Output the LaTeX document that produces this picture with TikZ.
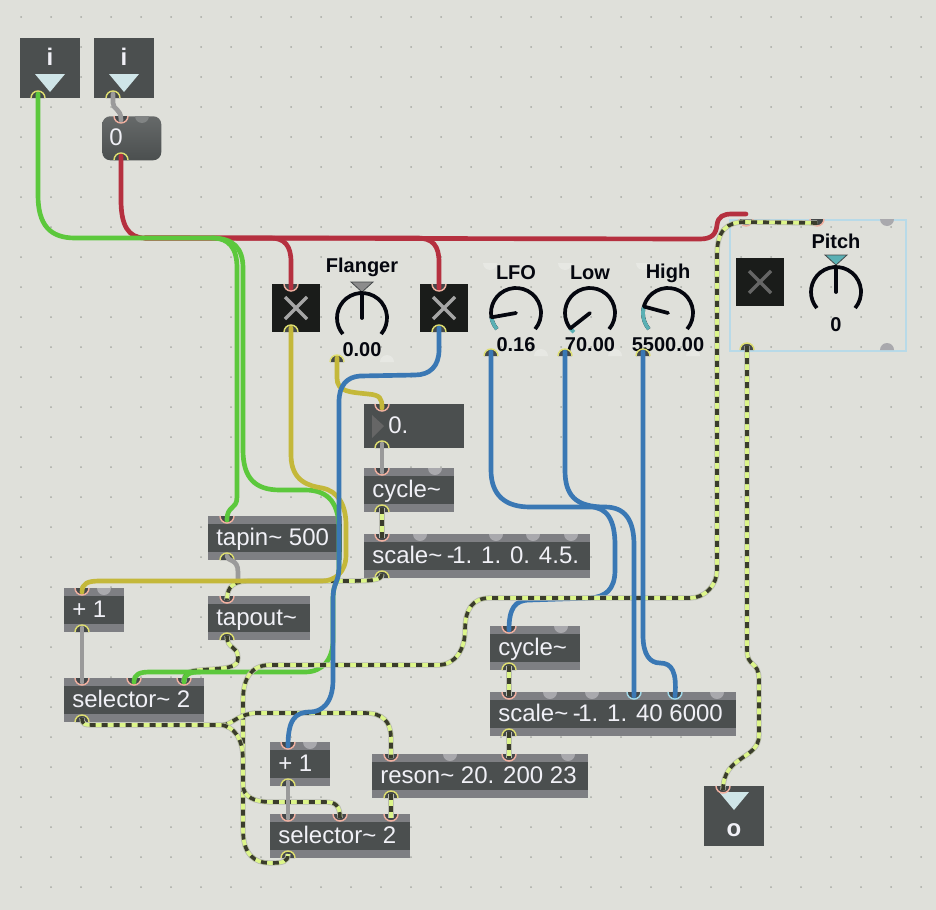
\documentclass[tikz,border=0pt]{standalone}
\usepackage{fontspec}
\setmainfont{Liberation Sans}
\definecolor{bgc}{HTML}{DFE0DA}
\definecolor{dotc}{HTML}{A8AAA4}
\definecolor{body}{HTML}{4B4F4F}
\definecolor{barc}{HTML}{7E7F83}
\definecolor{semic}{HTML}{A9A9AD}
\definecolor{txt}{HTML}{F0F0F6}
\definecolor{tri}{HTML}{CFE5E8}
\definecolor{peach}{HTML}{F0B0A0}
\definecolor{yel}{HTML}{DEDE70}
\definecolor{cy}{HTML}{A0D8E8}
\definecolor{port}{HTML}{44484A}
\definecolor{togg}{HTML}{1A1C1A}
\definecolor{grn}{HTML}{5CC83C}
\definecolor{red1}{HTML}{B5303F}
\definecolor{yw}{HTML}{C4B83A}
\definecolor{blu}{HTML}{3A78B4}
\definecolor{gry}{HTML}{9A9A9A}
\definecolor{lime}{HTML}{DCF58A}
\definecolor{dsh}{HTML}{3A3C2C}
\definecolor{halo}{HTML}{B8BAB0}
\definecolor{teal}{HTML}{5AB0B4}
\definecolor{knob}{HTML}{05070F}
\definecolor{bpb}{HTML}{B8DAE8}
\tikzset{
  boxtext/.style={font=\fontsize{18}{20}\selectfont,text=txt,inner sep=0pt},
  label/.style={font=\bfseries\fontsize{15}{17}\selectfont,text=knob,inner sep=0pt},
  wire/.style={line width=3.5pt,line cap=round,line join=round},
  greenw/.style={wire,draw=grn},
  redw/.style={wire,draw=red1},
  yellw/.style={wire,draw=yw},
  bluew/.style={wire,draw=blu},
  greyw/.style={wire,draw=gry},
  sig/.style={line width=2.7pt,line join=round,
    preaction={draw=halo,line width=3.9pt,solid},
    preaction={draw=lime,line width=2.7pt,solid},
    draw=dsh,dash pattern=on 4.5pt off 4.5pt},
}
% object box with bars and text
\newcommand{\obj}[6]{%
  \node[anchor=north west,fill=body,inner sep=0pt,minimum width={(#4-#2)*0.75pt},minimum height={(#5-#3)*0.75pt}] (#1) at (#2,#3) {};
  \fill[barc] (#2,#3) rectangle (#4,#3+8);
  \fill[barc] (#2,#5-8) rectangle (#4,#5);
  \node[boxtext,anchor=base west] (#1t) at (#2+8,#3+29) {#6};
}
\newcommand{\semi}[2]{\fill[semic] (#1-7,#2) arc[start angle=180,end angle=360,radius=5.25pt] -- cycle;}
\newcommand{\paleup}[2]{\fill[white!25!bgc] (#1-7,#2) arc[start angle=180,end angle=0,radius=5.25pt] -- cycle;}
\newcommand{\paledn}[2]{\fill[white!25!bgc] (#1-7,#2) arc[start angle=180,end angle=360,radius=5.25pt] -- cycle;}
\newcommand{\inp}[4][peach]{%
  \coordinate (#2) at (#3,#4+4);
  \fill[port] (#3-7,#4) arc[start angle=180,end angle=360,radius=5.25pt] -- cycle;
  \draw[#1,line width=1.1pt] (#3-7,#4) arc[start angle=180,end angle=360,radius=5.25pt];
}
\newcommand{\outp}[3]{%
  \coordinate (#1) at (#2,#3-4);
  \fill[port] (#2-7,#3) arc[start angle=180,end angle=0,radius=5.25pt] -- cycle;
  \draw[yel,line width=1.1pt] (#2-7,#3) arc[start angle=180,end angle=0,radius=5.25pt];
}
% dial: name, cx, cy, pointer angle, teal part
\newcommand{\dial}[5]{%
  \coordinate (#1) at (#2,#3);
  \draw[knob,line width=2.8pt] (#1) ++(-40:18.75pt) arc[start angle=-40,end angle=220,radius=18.75pt];
  #5
  \draw[knob,line width=2.8pt,line cap=round] (#1) -- ++(#4:18.75pt);
}
\newcommand{\toggle}[4]{%
  \node[anchor=north west,fill=togg,inner sep=0pt,minimum size=36pt] (#1) at (#2,#3) {};
  \draw[#4,line width=2.6pt] (#2+13,#3+13) -- (#2+35,#3+35) (#2+35,#3+13) -- (#2+13,#3+35);
}
\begin{document}
\begin{tikzpicture}[x=0.75pt,y=-0.75pt]
\useasboundingbox (0,0) rectangle (936,910);
\fill[bgc] (0,0) rectangle (936,910);
\foreach \i in {0,...,30}{\foreach \j in {0,...,30}{\fill[dotc] (21+30*\i,17+30*\j) circle[radius=0.75pt];}}

% inlets
\node[anchor=north west,fill=body,inner sep=0pt,minimum size=45pt] (inA) at (20,38) {};
\node[anchor=north west,fill=body,inner sep=0pt,minimum size=45pt] (inB) at (94,38) {};
\fill[tri] (35,74) -- (65,74) -- (50,92) -- cycle;
\fill[tri] (109,74) -- (139,74) -- (124,92) -- cycle;
\node[font=\bfseries\fontsize{18}{20}\selectfont,text=txt,inner sep=0pt] (inAt) at (50,57) {i};
\node[font=\bfseries\fontsize{18}{20}\selectfont,text=txt,inner sep=0pt] (inBt) at (124,57) {i};
\outp{inAo}{38}{98}
\outp{inBo}{113}{98}

% integer number box
\node[anchor=north west,top color=body!85!white,bottom color=body,inner sep=0pt,rounded corners=6pt,minimum width=44.25pt,minimum height=33pt] (numA) at (102,116) {};
\fill[body!70!white] (135,116) arc[start angle=180,end angle=360,radius=5.25pt] -- cycle;
\node[boxtext,anchor=base west] (numAt) at (109,145) {0};
\inp{numAi}{121}{116}
\outp{numAo}{121}{160}

% toggles
\toggle{tgA}{272}{284}{gray!70!white}
\toggle{tgB}{420}{284}{gray!70!white}
\inp{tgAi}{291}{284}
\outp{tgAo}{291}{332}
\inp{tgBi}{439}{284}
\outp{tgBo}{439}{332}

% Flanger dial
\node[label] (lFl) at (362,267) {Flanger};
\fill[gray!90!white,draw=port,line width=.6pt] (351,282) -- (373,282) -- (362,292) -- cycle;
\dial{dFl}{362}{318}{90}{}
\node[label] (vFl) at (362,350) {0.00};
\outp{dFlo}{337}{362}
\paleup{387}{362}

% LFO, Low, High dials
\paledn{490}{263}\paledn{565}{263}\paledn{643}{263}
\node[label] (lL) at (516,273) {LFO};
\node[label] (lW) at (590,273) {Low};
\node[label] (lH) at (668,273) {High};
\dial{dL}{516}{313}{190}{\draw[teal,line width=2.8pt] (516,313) ++(220:18.75pt) arc[start angle=220,end angle=190,radius=18.75pt];}
\dial{dW}{590}{313}{218}{\draw[teal,line width=2.8pt] (590,313) ++(230:18.75pt) arc[start angle=230,end angle=218,radius=18.75pt];}
\dial{dH}{668}{313}{165}{\draw[teal,line width=2.8pt] (668,313) ++(220:18.75pt) arc[start angle=220,end angle=165,radius=18.75pt];}
\paleup{541}{356}\paleup{615}{356}\paleup{693}{356}
\node[label] (vL) at (516,345) {0.16};
\node[label] (vW) at (590,345) {70.00};
\node[label] (vH) at (668,345) {5500.00};
\outp{dLo}{491}{356}
\outp{dWo}{565}{356}
\outp{dHo}{643}{356}

% Pitch patcher
\node[anchor=north west,draw=bpb,line width=1.4pt,inner sep=0pt,minimum width=132pt,minimum height=98.25pt] (bp) at (729,219) {};
\fill[semic] (880,219) arc[start angle=180,end angle=360,radius=5.25pt] -- cycle;
\fill[semic] (880,350) arc[start angle=180,end angle=0,radius=5.25pt] -- cycle;
\toggle{tgC}{736}{258}{gray!80!black}
\node[label] (lP) at (836,241) {Pitch};
\fill[teal,draw=port,line width=.6pt] (825,255) -- (847,255) -- (836,265) -- cycle;
\dial{dP}{836}{292}{90}{}
\node[label] (vP) at (836,325) {0};
\inp{bpi}{817}{219}
\outp{bpo}{747}{350}
\inp{tgCi}{746}{219}

% float number box
\node[anchor=north west,fill=body,inner sep=0pt,minimum width=75pt,minimum height=33pt] (numB) at (364,404) {};
\fill[gray!80!black] (372,415) -- (384,426) -- (372,438) -- cycle;
\node[boxtext,anchor=base west] (numBt) at (388,433) {0.};
\inp{numBi}{382}{404}
\outp{numBo}{382}{448}

% objects
\obj{cyA}{364}{468}{454}{512}{cycle\char`~}
\semi{435}{468}
\inp{cyAi}{382}{468}\outp{cyAo}{382}{512}
\obj{scA}{364}{534}{590}{578}{scale\char`~{}\kern-1.5pt{} -\kern-2pt{}1. 1. 0. 4.5.}
\semi{420}{534}\semi{496}{534}\semi{533}{534}\semi{571}{534}
\inp{scAi}{382}{534}\outp{scAo}{382}{578}
\obj{tin}{208}{516}{342}{560}{tapin\char`~{} 500}
\inp{tini}{227}{516}\outp{tino}{227}{560}
\obj{plA}{64}{588}{124}{632}{+ 1}
\semi{104}{588}
\inp{plAi}{82}{588}\outp{plAo}{82}{632}
\obj{tout}{208}{596}{310}{640}{tapout\char`~}
\inp{touti}{227}{596}\outp{touto}{227}{640}
\obj{selA}{64}{678}{204}{722}{selector\char`~{} 2}
\inp{selAa}{82}{678}\inp{selAb}{134}{678}\inp{selAc}{184}{678}\outp{selAo}{82}{722}
\obj{plB}{270}{742}{330}{786}{+ 1}
\semi{310}{742}
\inp{plBi}{288}{742}\outp{plBo}{288}{786}
\obj{res}{372}{754}{588}{798}{reson\char`~{} 20. 200 23}
\semi{450}{754}\semi{568}{754}
\inp{resi}{391}{754}\inp{resj}{509}{754}\outp{reso}{391}{798}
\obj{selB}{270}{814}{410}{858}{selector\char`~{} 2}
\inp{selBa}{288}{814}\inp{selBb}{340}{814}\inp{selBc}{391}{814}\outp{selBo}{288}{858}
\obj{cyB}{490}{626}{580}{670}{cycle\char`~}
\semi{561}{626}
\inp{cyBi}{509}{626}\outp{cyBo}{509}{670}
\obj{scB}{490}{692}{736}{736}{scale\char`~{}\kern-1.5pt{} -\kern-2pt{}1. 1. 40 6000}
\semi{550}{692}\semi{592}{692}\semi{717}{692}
\inp{scBi}{509}{692}\inp[cy]{scBj}{634}{692}\inp[cy]{scBk}{675}{692}\outp{scBo}{509}{736}

% outlet
\node[anchor=north west,fill=body,inner sep=0pt,minimum size=45pt] (out) at (704,786) {};
\fill[tri] (719,792) -- (749,792) -- (734,810) -- cycle;
\node[font=\bfseries\fontsize{18}{20}\selectfont,text=txt,inner sep=0pt] (outt) at (734,830) {o};
\inp{outi}{723}{786}

% signal wires beneath the others
\draw[sig] (scAo) .. controls (382,581) and (370,581) .. (340,581) -- (250,581) .. controls (235,581) and (227,585) .. (touti);
\draw[sig] (touto) .. controls (227,650) and (238,645) .. (238,658) .. controls (238,668) and (228,668) .. (200,670) .. controls (190,671) and (184,672) .. (selAc);

% red
\draw[redw] (numAo) -- (121,200) .. controls (121,225) and (128,238) .. (145,238) -- (270,238) .. controls (285,238) and (291,246) .. (291,262) -- (tgAi);
\draw[redw] (145,238) -- (417,238) .. controls (433,238) and (439,246) .. (439,262) -- (tgBi);
\draw[redw] (145,238) -- (700,239) .. controls (712,239) and (716,234) .. (717,225) .. controls (718,216) and (724,214) .. (732,214) -- (tgCi |- 0,214);

% green
\draw[greenw] (inAo) -- (38,195) .. controls (38,225) and (50,238) .. (75,238) -- (212,238) .. controls (229,238) and (237,248) .. (237,268) -- (237,497) .. controls (237,510) and (227,505) .. (tini);
\draw[greenw] (212,238) .. controls (233,238) and (243,248) .. (243,268) -- (243,450) .. controls (243,478) and (255,490) .. (280,490) -- (305,490) .. controls (330,490) and (339,505) .. (339,530) -- (339,565) .. controls (339,585) and (333,580) .. (333,600) -- (333,640) .. controls (333,660) and (322,672) .. (305,672) -- (150,672) .. controls (140,672) and (134,674) .. (selAb);
\draw[greenw] (200,672) .. controls (190,672) and (184,674) .. (selAc);

% blue wire that runs under the signal wire
\draw[bluew] (dLo) -- (491,470) .. controls (491,495) and (505,507) .. (530,507) -- (590,507) .. controls (607,507) and (615,520) .. (615,545) -- (615,570) .. controls (615,590) and (605,597) .. (590,598) -- (530,600) .. controls (515,600) and (509,608) .. (cyBi);

% signal wires
\draw[sig] (bpi) -- (745,222) .. controls (727,222) and (717,230) .. (717,255) -- (717,570) .. controls (717,585) and (705,598) .. (690,598) -- (490,598) .. controls (472,598) and (465,610) .. (465,630) .. controls (465,650) and (455,665) .. (438,665) -- (270,665) .. controls (250,665) and (243,680) .. (243,700) -- (243,830) .. controls (243,855) and (255,863) .. (270,863) .. controls (283,863) and (288,862) .. (selBo);
\draw[sig] (selAo) .. controls (82,725) and (85,725) .. (95,725) -- (222,725) .. controls (232,725) and (236,715) .. (255,713) -- (365,713) .. controls (383,713) and (391,722) .. (391,738) -- (resi);
\draw[sig] (222,725) .. controls (233,727) and (243,737) .. (243,760) -- (243,785) .. controls (243,797) and (255,802) .. (270,802) -- (325,802) .. controls (335,802) and (340,805) .. (selBb);
\draw[sig] (cyAo) -- (scAi);
\draw[sig] (cyBo) -- (scBi);
\draw[sig] (scBo) -- (resj);
\draw[sig] (reso) -- (selBc);
\draw[sig] (bpo) -- (747,650) .. controls (747,668) and (759,660) .. (759,680) -- (759,735) .. controls (759,760) and (723,755) .. (outi);

% grey
\draw[greyw] (inBo) -- (113,103) .. controls (113,110) and (121,108) .. (numAi);
\draw[greyw] (numBo) -- (numBi |- cyAi);
\draw[greyw] (tino) .. controls (227,562) and (238,558) .. (238,572) -- (238,581);
\draw[greyw] (plAo) -- (selAa);
\draw[greyw] (plBo) -- (selBa);

% yellow
\draw[yellw] (tgAo) -- (291,455) .. controls (291,482) and (310,486) .. (322,488) .. controls (338,491) and (346,505) .. (346,525) -- (346,555) .. controls (346,572) and (335,581) .. (322,581) -- (100,581) .. controls (88,581) and (82,583) .. (plAi);
\draw[yellw] (dFlo) -- (337,378) .. controls (337,392) and (350,392) .. (368,394) .. controls (380,395) and (382,398) .. (numBi);

% blue
\draw[bluew] (tgBo) -- (439,350) .. controls (439,366) and (430,375) .. (415,375) -- (360,376) .. controls (347,377) and (339,385) .. (339,402) -- (339,565) .. controls (339,585) and (333,580) .. (333,600) -- (333,680) .. controls (333,705) and (320,712) .. (310,712) .. controls (295,712) and (288,720) .. (plBi);
\draw[bluew] (dWo) -- (565,470) .. controls (565,495) and (575,507) .. (605,507) .. controls (625,507) and (634,520) .. (634,545) -- (scBj);
\draw[bluew] (dHo) -- (643,635) .. controls (643,655) and (650,663) .. (660,663) .. controls (672,663) and (677,672) .. (scBk);
\end{tikzpicture}
\end{document}
